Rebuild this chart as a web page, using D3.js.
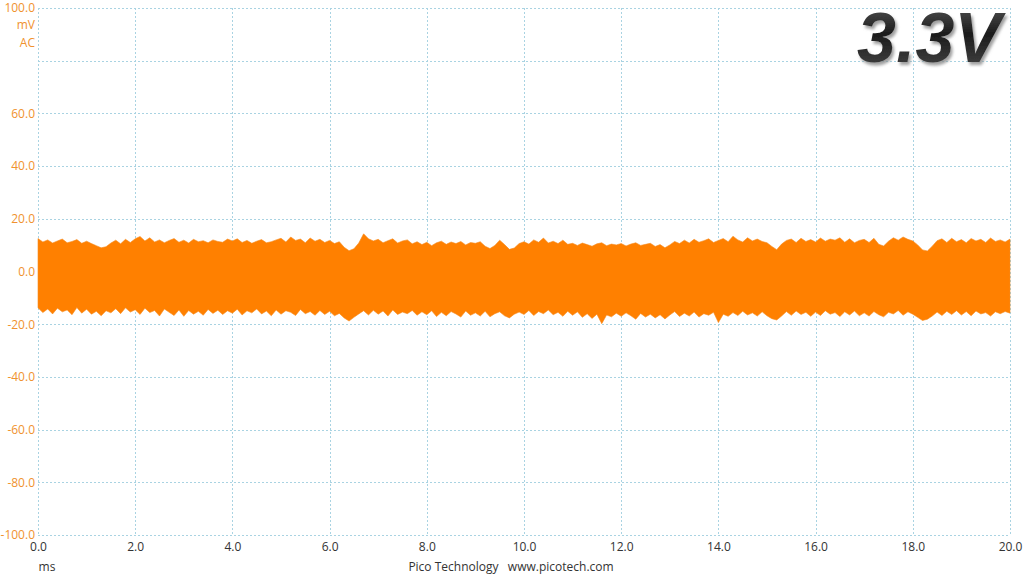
<!DOCTYPE html>
<html>
<head>
<meta charset="utf-8">
<script src="https://cdn.jsdelivr.net/npm/d3@7"></script>
<style>
  html, body { margin: 0; padding: 0; background: #fff; }
  svg { display: block; }
  text { font-family: "Open Sans", "Noto Sans", sans-serif; }
</style>
</head>
<body>
<svg id="chart" width="1024" height="576"></svg>
<script>
// ---- data ----
const timeStartMs = 0;
const timeStepMs = 0.1;
const xTicks = [0, 2, 4, 6, 8, 10, 12, 14, 16, 18, 20];
const xTickLabels = ["0.0","2.0","4.0","6.0","8.0","10.0","12.0","14.0","16.0","18.0","20.0"];
const yTicks = [100, 80, 60, 40, 20, 0, -20, -40, -60, -80, -100];
const yTickLabels = ["100.0","","60.0","40.0","20.0","0.0","-20.0","-40.0","-60.0","-80.0","-100.0"];
const yUnitLabels = ["mV", "AC"];
const xUnitLabel = "ms";
const footerLabel = "Pico Technology   www.picotech.com";
const titleLabel = "3.3V";

// upper peak envelope (mV) every 0.1 ms
const upperPeak = [
  12.5, 11.2, 12.0, 10.8, 11.6, 12.3, 10.9, 11.4, 12.1, 10.7,
  11.5, 10.6,  9.8,  9.0,  9.4, 10.8, 11.9, 10.5, 12.2, 11.0,
  12.4, 13.3, 11.6, 12.8, 11.2, 12.0, 10.9, 11.8, 12.5, 11.1,
  11.9, 10.8, 12.2, 11.3, 11.7, 10.9, 12.0, 11.4, 11.1, 12.3,
  11.6, 12.4, 11.0, 11.8, 10.7, 11.5, 12.1, 10.9, 11.3, 12.0,
  12.6, 11.2, 13.1, 11.8, 12.3, 10.9, 12.7, 11.5, 12.2, 11.0,
  11.8, 10.6, 11.3,  9.2,  7.9,  8.6, 10.8, 14.3, 12.4, 11.6,
  12.2, 10.9, 11.7, 12.4, 10.8, 11.6, 12.0, 10.5, 11.3, 10.2,
  11.1,  9.8, 10.9, 11.5, 10.3, 11.2, 10.6, 11.4, 10.1, 11.0,
  10.7, 11.3,  9.6,  8.7,  9.9, 11.9, 10.2,  8.4,  8.9, 10.6,
  11.3, 10.4, 12.0, 11.1, 12.7, 10.8, 11.5, 10.6, 11.9, 10.3,
  10.7,  9.9, 10.8, 10.2,  9.6, 10.5, 10.9,  9.8, 10.4, 10.1,
  10.6,  9.7, 10.4, 10.9,  9.9, 10.3, 10.7,  9.5, 10.2,  9.0,
  10.1, 11.4, 10.6, 11.9, 10.8, 12.2, 11.1, 11.7, 12.4, 11.0,
  11.8, 12.5, 11.3, 13.4, 12.0, 11.2, 12.8, 11.6, 12.3, 11.4,
  10.9,  9.5,  8.3, 10.4, 11.8, 12.3, 11.0, 12.6, 11.4, 12.1,
  11.2, 12.7, 11.5, 12.3, 11.9, 12.8, 11.1, 12.4, 10.9, 11.8,
  12.2, 11.0, 12.6, 10.3,  9.7, 11.5, 12.8, 11.9, 13.1, 12.2,
  11.6, 10.1,  8.2,  7.8,  9.6, 11.7, 12.4, 11.0, 12.6, 11.3,
  12.1, 10.9, 12.5, 11.6, 12.2, 11.0, 12.7, 11.4, 12.0, 11.2,
  12.3
];

// lower peak envelope (mV) every 0.1 ms
const lowerPeak = [
  -13.8, -15.6, -14.2, -16.1, -13.9, -15.3, -14.6, -16.4, -13.7, -15.8,
  -14.3, -16.2, -15.1, -16.8, -14.9, -15.7, -14.1, -16.0, -13.8, -15.4,
  -14.5, -16.3, -13.9, -15.6, -14.8, -16.9, -14.2, -15.5, -16.7, -14.6,
  -17.0, -14.8, -16.2, -15.1, -16.6, -14.4, -15.9, -14.7, -16.3, -14.9,
  -15.8, -14.3, -16.5, -14.9, -15.7, -14.2, -16.1, -15.0, -16.8, -14.6,
  -16.2, -14.9, -15.5, -16.7, -14.4, -16.0, -15.2, -16.6, -14.8, -16.3,
  -15.1, -16.8, -15.9, -17.6, -18.8, -17.4, -16.1, -14.9, -16.5, -14.7,
  -16.2, -15.0, -16.9, -14.6, -16.3, -15.4, -16.0, -14.8, -16.6, -15.3,
  -16.4, -14.9, -17.1, -15.5, -16.8, -15.2, -16.1, -17.3, -15.0, -16.6,
  -15.7, -16.9, -15.1, -17.2, -16.0, -15.3, -16.8, -17.6, -16.2, -15.4,
  -16.3, -14.8, -16.7, -15.2, -16.0, -14.6, -16.4, -15.5, -17.0, -15.1,
  -16.6, -15.3, -17.4, -16.0, -17.8, -16.2, -19.8, -16.5, -17.2, -15.8,
  -17.0, -15.7, -16.8, -18.1, -15.9, -17.3, -16.2, -17.6, -16.4, -18.0,
  -16.5, -15.2, -17.1, -15.8, -16.9, -15.4, -17.3, -16.0, -16.6, -15.5,
  -19.4, -16.2, -17.0, -15.6, -16.7, -15.1, -16.5, -15.7, -16.9, -15.3,
  -16.8, -17.9, -18.4, -16.9, -15.2, -16.6, -15.0, -16.3, -15.5, -17.0,
  -15.4, -16.7, -14.9, -16.2, -15.6, -17.1, -15.3, -16.5, -15.0, -16.8,
  -15.7, -16.9, -15.2, -16.4, -17.2, -15.5, -16.1, -14.8, -16.6, -15.3,
  -16.2, -17.4, -18.6, -18.1, -16.9, -15.4, -16.7, -15.1, -16.3, -14.9,
  -16.5, -15.2, -16.8, -15.0, -16.1, -15.6, -16.9, -15.3, -16.0, -15.2,
  -15.8
];

// ---- drawing ----
const svg = d3.select("#chart");
const W = 1024, H = 576;
const margin = { left: 38, right: 14, top: 8, bottom: 41 };

const x = d3.scaleLinear().domain([0, 20]).range([margin.left, W - margin.right]);
const y = d3.scaleLinear().domain([-100, 100]).range([H - margin.bottom, margin.top]);

svg.append("rect").attr("width", W).attr("height", H).attr("fill", "#fff");

const gridColor = "#a9d3e2";
// horizontal grid
svg.append("g").selectAll("line").data(yTicks).join("line")
  .attr("x1", x(0)).attr("x2", x(20))
  .attr("y1", d => Math.round(y(d)) + 0.5).attr("y2", d => Math.round(y(d)) + 0.5)
  .attr("stroke", gridColor).attr("stroke-width", 1).attr("stroke-dasharray", "2,2");
// vertical grid
svg.append("g").selectAll("line").data(xTicks).join("line")
  .attr("y1", y(100)).attr("y2", y(-100))
  .attr("x1", d => Math.round(x(d)) + 0.5).attr("x2", d => Math.round(x(d)) + 0.5)
  .attr("stroke", gridColor).attr("stroke-width", 1).attr("stroke-dasharray", "2,2");

// y labels
const yAxis = d3.axisLeft(y).tickValues(yTicks).tickSize(0).tickPadding(3)
  .tickFormat((d, i) => yTickLabels[i]);
const gy = svg.append("g").attr("transform", `translate(${margin.left},0)`).call(yAxis);
gy.select(".domain").remove();
gy.selectAll("text").attr("fill", "#f0922e").style("font-size", "12px")
  .style("font-family", "'Open Sans', 'Noto Sans', sans-serif");

// unit labels under 100.0
svg.append("g").selectAll("text").data(yUnitLabels).join("text")
  .attr("x", margin.left - 3).attr("y", (d, i) => y(100) + 17 + i * 18)
  .attr("dy", "0.35em").attr("text-anchor", "end")
  .attr("fill", "#f0922e").style("font-size", "12px").text(d => d);

// x labels
const xAxis = d3.axisBottom(x).tickValues(xTicks).tickSize(0).tickPadding(7)
  .tickFormat((d, i) => xTickLabels[i]);
const gx = svg.append("g").attr("transform", `translate(0,${y(-100)})`).call(xAxis);
gx.select(".domain").remove();
gx.selectAll("text").attr("fill", "#333").style("font-size", "12px")
  .style("font-family", "'Open Sans', 'Noto Sans', sans-serif");

svg.append("text").attr("x", 47).attr("y", 571).attr("text-anchor", "middle")
  .attr("fill", "#333").style("font-size", "12px").text(xUnitLabel);
svg.append("text").attr("x", 511).attr("y", 571).attr("text-anchor", "middle")
  .attr("fill", "#333").style("font-size", "12px").style("white-space", "pre")
  .attr("xml:space", "preserve").text(footerLabel);

// trace envelope
const samples = upperPeak.map((u, i) => ({ t: timeStartMs + i * timeStepMs, hi: u, lo: lowerPeak[i] }));
const area = d3.area()
  .x(d => x(d.t)).y0(d => y(d.lo)).y1(d => y(d.hi))
  .curve(d3.curveLinear);
svg.append("path").datum(samples).attr("d", area)
  .attr("fill", "#ff8000").attr("stroke", "#f58a1f").attr("stroke-width", 0.6);

// title "3.3V"
const defs = svg.append("defs");
const grad = defs.append("linearGradient").attr("id", "tgrad")
  .attr("x1", "0").attr("y1", "0").attr("x2", "0").attr("y2", "1");
grad.append("stop").attr("offset", "0%").attr("stop-color", "#5a5a5a");
grad.append("stop").attr("offset", "45%").attr("stop-color", "#1c1c1c");
grad.append("stop").attr("offset", "100%").attr("stop-color", "#4a4a4a");
const filt = defs.append("filter").attr("id", "tshadow").attr("x", "-10%").attr("y", "-10%")
  .attr("width", "130%").attr("height", "140%");
filt.append("feDropShadow").attr("dx", 2).attr("dy", 3).attr("stdDeviation", 1.5)
  .attr("flood-color", "#888").attr("flood-opacity", 0.8);

svg.append("text").attr("x", 857).attr("y", 62)
  .style("font-family", "'Liberation Sans', Arial, sans-serif")
  .style("font-size", "70px").style("font-weight", "bold").style("font-style", "italic")
  .attr("fill", "url(#tgrad)").attr("filter", "url(#tshadow)")
  .text(titleLabel);
</script>
</body>
</html>
